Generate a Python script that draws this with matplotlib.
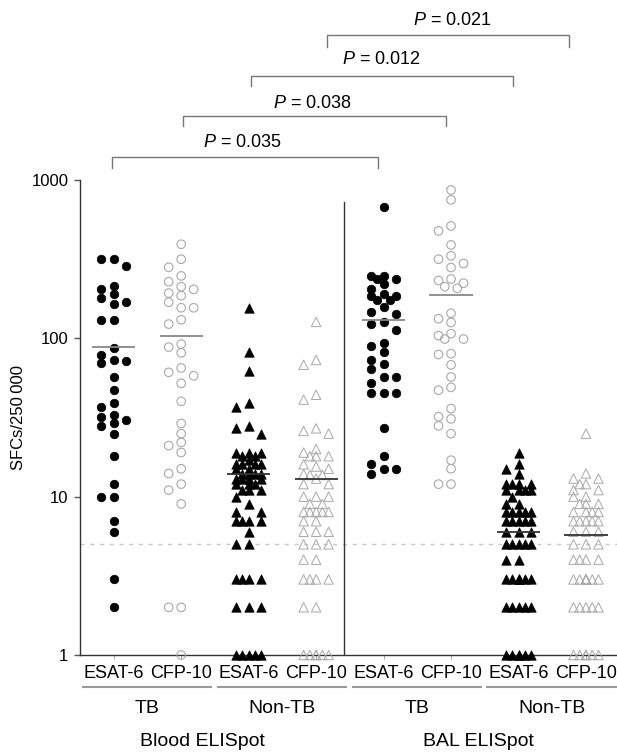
import numpy as np
import matplotlib.pyplot as plt
from matplotlib.ticker import NullLocator
from matplotlib.transforms import blended_transform_factory

plt.rcParams['font.family'] = ['Liberation Sans', 'DejaVu Sans']
plt.rcParams['mathtext.fontset'] = 'custom'
plt.rcParams['mathtext.it'] = 'Liberation Sans:italic'
plt.rcParams['mathtext.rm'] = 'Liberation Sans'

# SFCs per 250 000 cells
blood_tb_esat = [318, 318, 287, 215, 205, 190, 181, 170, 165, 131, 131, 87, 78, 73, 72, 70,
                 57, 47, 39, 37, 33, 32, 30.5, 29, 28, 25, 18, 12, 10, 10, 7, 6, 3, 2]
blood_tb_cfp = [393, 316, 281, 248, 228, 212, 204, 193, 186, 169, 156, 156, 131, 123, 92, 88,
                81, 65, 61, 58, 52, 40, 29, 25, 22, 21, 19, 15, 14, 12, 11, 9, 2, 2, 1]
blood_ntb_esat = [156, 82, 62, 39, 37, 28, 27, 25, 19, 19, 19, 18, 18, 17, 16, 16, 16, 16,
                  15, 15, 14, 14, 14, 14, 13, 13, 13, 13, 12, 12, 12, 11, 11, 11, 10, 9, 8, 8,
                  7, 7, 7, 7, 6, 5, 5, 3, 3, 3, 3, 2, 2, 2, 1, 1, 1, 1, 1]
blood_ntb_cfp = [127, 73, 68, 44, 41, 27, 26, 25, 20, 19, 18, 18, 18, 16, 15.5, 15, 13.9, 13.7,
                 13.7, 13, 12, 12, 10, 10, 10, 9, 9, 8, 8, 8, 8, 8, 7, 7, 6, 6, 6, 5, 5, 5,
                 4, 4, 3, 3, 3, 3, 2, 2, 1, 1, 1, 1, 1, 1]
bal_tb_esat = [679, 249, 249, 237, 237, 221, 205, 191, 186, 186, 175, 175, 157, 146, 143, 126,
               123, 113, 94, 90, 82, 73, 69, 64, 57, 57, 52, 45, 45, 45, 27, 18, 16, 15, 15, 14]
bal_tb_cfp = [865, 749, 513, 477, 389, 332, 316, 297, 280, 237, 232, 223, 212, 207, 144, 133,
              126, 107, 104, 99, 99, 80, 79, 68, 57, 49, 47, 36, 32, 31, 28, 25, 17, 15, 12, 12]
bal_ntb_esat = [19, 16, 15, 14, 12, 12, 12, 12, 11, 11, 11, 11, 10, 9, 9, 8, 8, 8, 8, 8,
                7, 7, 7, 7, 7, 6, 6, 6, 5, 5, 5, 5, 5, 4, 4, 3, 3, 3, 3, 3, 3, 3,
                2, 2, 2, 2, 2, 1, 1, 1, 1, 1, 1]
bal_ntb_cfp = [25, 14, 13, 13, 12, 12, 11, 11, 10, 10, 9, 9, 9, 8, 8, 8, 8, 7, 7, 7, 7, 7,
               6, 6, 6, 5, 5, 5, 4, 4, 4, 4, 3, 3, 3, 3, 3, 3, 3, 3, 2, 2, 2, 2, 2,
               1, 1, 1, 1, 1, 1]

columns = [blood_tb_esat, blood_tb_cfp, blood_ntb_esat, blood_ntb_cfp,
           bal_tb_esat, bal_tb_cfp, bal_ntb_esat, bal_ntb_cfp]
group_means = [88, 104, 14, 13, 130, 188, 6, 5.7]
antigens = ['ESAT-6', 'CFP-10'] * 4
groups = ['TB', 'Non-TB', 'TB', 'Non-TB']
assays = ['Blood ELISpot', 'BAL ELISpot']
threshold = 5

comparisons = [(0, 4), (1, 5), (2, 6), (3, 7)]
p_values = ['0.035', '0.038', '0.012', '0.021']

W, H = 617, 753
fig = plt.figure(figsize=(W / 100, H / 100), dpi=100)
ax = fig.add_axes([80 / W, 98 / H, 537 / W, 475 / H])
ax.set_yscale('log')
xmin, xmax = -0.5, 7.46
ax.set_xlim(xmin, xmax)
ax.set_ylim(1, 1000)

px_x = 537 / (xmax - xmin)
px_dec = 475 / 3.0


def swarm(vals, step=12.5, d=8.5):
    # greedy beeswarm in pixel space, offsets kept within +-step
    vals = np.asarray(vals, float)
    cand = [0, -step, step, -step / 2, step / 2]
    placed = []
    offs = np.zeros(len(vals))
    for i in np.argsort(-vals, kind='stable'):
        y = np.log10(vals[i]) * px_dec
        chosen, fallback, best = None, 0, -1
        for c in cand:
            dmin = min([np.hypot(c - px, y - py) for px, py in placed], default=1e9)
            if dmin >= d:
                chosen = c
                break
            if dmin > best:
                best, fallback = dmin, c
        if chosen is None:
            chosen = fallback
        placed.append((chosen, y))
        offs[i] = chosen / px_x
    return offs


styles = [
    dict(marker='o', s=38, facecolors='black', edgecolors='black', linewidths=0.5),
    dict(marker='o', s=38, facecolors='none', edgecolors='#a8a8a8', linewidths=0.8),
    dict(marker='^', s=46, facecolors='black', edgecolors='black', linewidths=0.5),
    dict(marker='^', s=46, facecolors='none', edgecolors='#a8a8a8', linewidths=0.7),
]
mean_colors = ['#888888', '#888888', '#333333', '#333333']

ax.axhline(threshold, color='#c8c8c8', ls=(0, (3, 4)), lw=1, zorder=1)

for i, vals in enumerate(columns):
    st = styles[i % 4]
    x = i + swarm(vals)
    ax.scatter(x, vals, zorder=3, clip_on=False, **st)
    ax.hlines(group_means[i], i - 0.32, i + 0.32, color=mean_colors[i % 4], lw=1.3, zorder=4)

# separator between blood and BAL
ax.axvline(3.42, ymin=0, ymax=0.954, color='#333333', lw=1)

for side in ['top', 'right']:
    ax.spines[side].set_visible(False)
for side in ['left', 'bottom']:
    ax.spines[side].set_color('#333333')
    ax.spines[side].set_linewidth(1)

ax.set_yticks([1, 10, 100, 1000])
ax.set_yticklabels(['1', '10', '100', '1000'])
ax.yaxis.set_minor_locator(NullLocator())
ax.tick_params(axis='y', length=4.3, width=1, color='#555555', pad=4, labelsize=12)
ax.set_xticks(range(8))
ax.set_xticklabels(antigens)
ax.tick_params(axis='x', length=3, width=0.8, color='#aaaaaa', pad=4, labelsize=13)

ax.set_ylabel('SFCs/250\u2009000', fontsize=12)
ax.yaxis.set_label_coords(-0.10, 0.5)

tr = blended_transform_factory(ax.transData, ax.transAxes)
for k, g in enumerate(groups):
    a, b = 2 * k, 2 * k + 1
    ax.plot([a - 0.46, b + 0.44], [-0.0674, -0.0674], transform=tr, clip_on=False,
            color='#9a9a9a', lw=1.5)
    ax.text((a + b) / 2, -0.112, g, transform=tr, ha='center', va='center', fontsize=14)
for k, name in enumerate(assays):
    ax.text([1.31, 5.40][k], -0.183, name, transform=tr, ha='center', va='center', fontsize=14)

# significance brackets
bracket_x = [(-0.03, 3.92), (1.02, 4.93), (2.03, 5.92), (3.16, 6.75)]
bracket_y = [(1.048, 1.025), (1.135, 1.114), (1.219, 1.198), (1.305, 1.279)]
text_pos = [(1.91, 1.078), (2.95, 1.162), (3.96, 1.253), (5.02, 1.335)]
for k, (pair, p) in enumerate(zip(comparisons, p_values)):
    x0, x1 = bracket_x[k]
    yt, yb = bracket_y[k]
    ax.plot([x0, x0, x1, x1], [yb, yt, yt, yb], transform=tr, clip_on=False,
            color='#777777', lw=1)
    tx, ty = text_pos[k]
    ax.text(tx, ty, '$P$ = ' + p, transform=tr, ha='center', va='center', fontsize=13)

fig.savefig('out.png', dpi=100)
